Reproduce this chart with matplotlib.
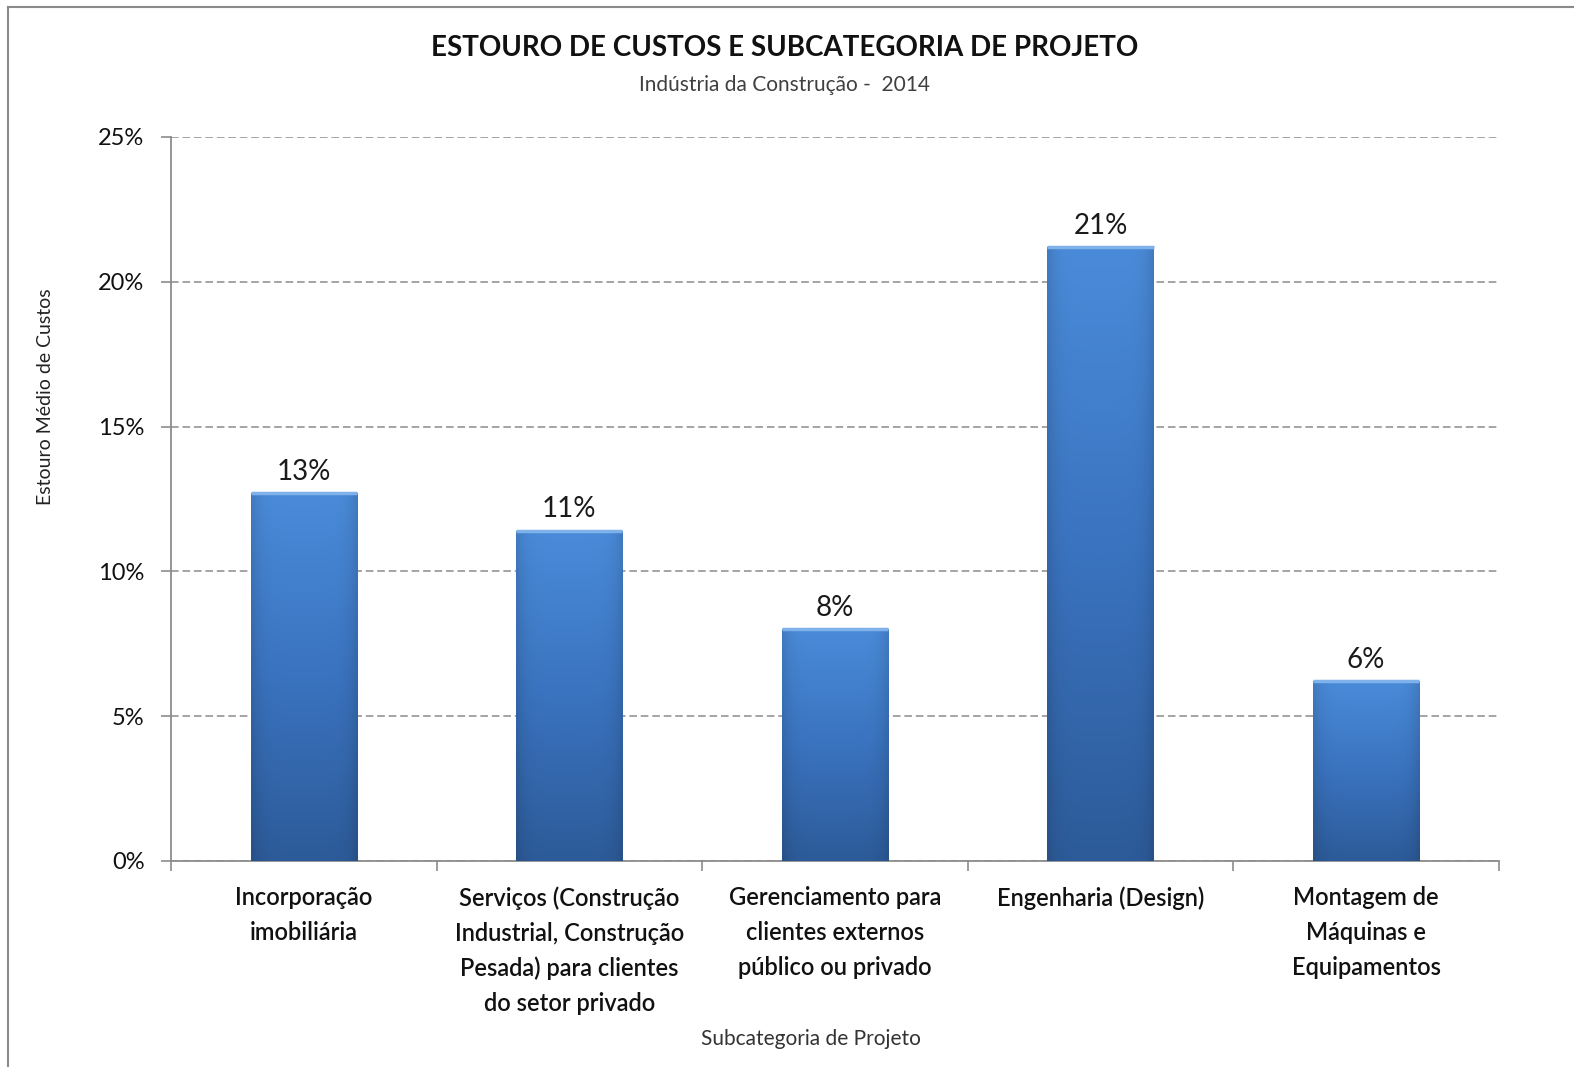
import matplotlib.pyplot as plt
import numpy as np
from matplotlib.colors import LinearSegmentedColormap
from matplotlib.lines import Line2D
from matplotlib.ticker import FuncFormatter, FixedLocator

plt.rcParams['font.family'] = ['Lato', 'DejaVu Sans']

categories = [
    'Incorporação\nimobiliária',
    'Serviços (Construção\nIndustrial, Construção\nPesada) para clientes\ndo setor privado',
    'Gerenciamento para\nclientes externos\npúblico ou privado',
    'Engenharia (Design)',
    'Montagem de\nMáquinas e\nEquipamentos',
]
overrun = [0.127, 0.114, 0.080, 0.212, 0.062]
y_ticks = [0, 0.05, 0.10, 0.15, 0.20, 0.25]

fig = plt.figure(figsize=(15.74, 10.67), dpi=100)
ax = fig.add_axes([0.1086, 0.1931, 0.8437, 0.6786])

# outer chart frame: only the left and top edges fall inside the image
frame_x, frame_y = 8 / 1574, 1 - 7 / 1067
fig.lines.append(Line2D([frame_x, frame_x], [0, frame_y], transform=fig.transFigure,
                        color='#8a8a8a', linewidth=1.5))
fig.lines.append(Line2D([frame_x, 1], [frame_y, frame_y], transform=fig.transFigure,
                        color='#8a8a8a', linewidth=1.5))

x = np.arange(len(categories))
bars = ax.bar(x, overrun, width=0.4, color='none', edgecolor='none', zorder=3)

# vertical gradient with slightly darker side edges for each bar
blue = LinearSegmentedColormap.from_list('bar_blue', ['#2d5b99', '#3a73bf', '#4a8bd9'])
ny, nx = 200, 60
vert = np.linspace(0, 1, ny)[:, None]
horiz = np.linspace(-1, 1, nx)[None, :]
shade = 1 - 0.12 * np.abs(horiz) ** 6
for bar in bars:
    bx, bw, bh = bar.get_x(), bar.get_width(), bar.get_height()
    rgb = blue(vert * np.ones((1, nx)))[..., :3] * shade[..., None]
    im = ax.imshow(rgb, extent=[bx, bx + bw, 0, bh], origin='lower',
                   aspect='auto', zorder=3, interpolation='bilinear')
    im.set_clip_path(bar)
    # light rim along the top edge
    ax.plot([bx, bx + bw], [bh, bh], color='#7fb2ea', linewidth=2.5,
            solid_capstyle='butt', zorder=4)
    ax.annotate(f'{bh * 100:.0f}%', (bx + bw / 2, bh), xytext=(0, 6),
                textcoords='offset points', ha='center', va='bottom',
                fontsize=20, color='#1a1a1a')

ax.set_xlim(-0.5, len(categories) - 0.5)
ax.set_ylim(0, 0.25)

ax.yaxis.set_major_locator(FixedLocator(y_ticks))
ax.yaxis.set_major_formatter(FuncFormatter(lambda v, _: f'{v * 100:.0f}%'))
ax.grid(axis='y', color='#8c8c8c', linestyle=(0, (5, 2.5)), linewidth=1.1, zorder=1)
ax.set_axisbelow(True)

ax.set_xticks(x)
ax.set_xticklabels(categories, fontsize=17, linespacing=1.63, color='#111111',
                   fontweight='semibold')
ax.xaxis.set_minor_locator(FixedLocator(np.arange(-0.5, len(categories), 1.0)))
ax.tick_params(axis='x', which='major', length=0, pad=18)
ax.tick_params(axis='x', which='minor', length=7, color='#8c8c8c', width=1.2)
ax.tick_params(axis='y', length=7, color='#8c8c8c', width=1.2, pad=12,
               labelsize=17, labelcolor='#111111')

for side in ('top', 'right'):
    ax.spines[side].set_visible(False)
for side in ('left', 'bottom'):
    ax.spines[side].set_color('#8c8c8c')
    ax.spines[side].set_linewidth(1.3)

fig.text(0.4987, 0.955, 'ESTOURO DE CUSTOS E SUBCATEGORIA DE PROJETO',
         ha='center', va='center', fontsize=20, fontweight='bold', color='#111111')
fig.text(0.4987, 0.920, 'Indústria da Construção -  2014',
         ha='center', va='center', fontsize=15, color='#404040')
fig.text(0.515, 0.026, 'Subcategoria de Projeto',
         ha='center', va='center', fontsize=15, color='#333333')
fig.text(0.029, 0.628, 'Estouro Médio de Custos', rotation=90,
         ha='center', va='center', fontsize=14, color='#222222')

fig.savefig('out.png', dpi=100)
